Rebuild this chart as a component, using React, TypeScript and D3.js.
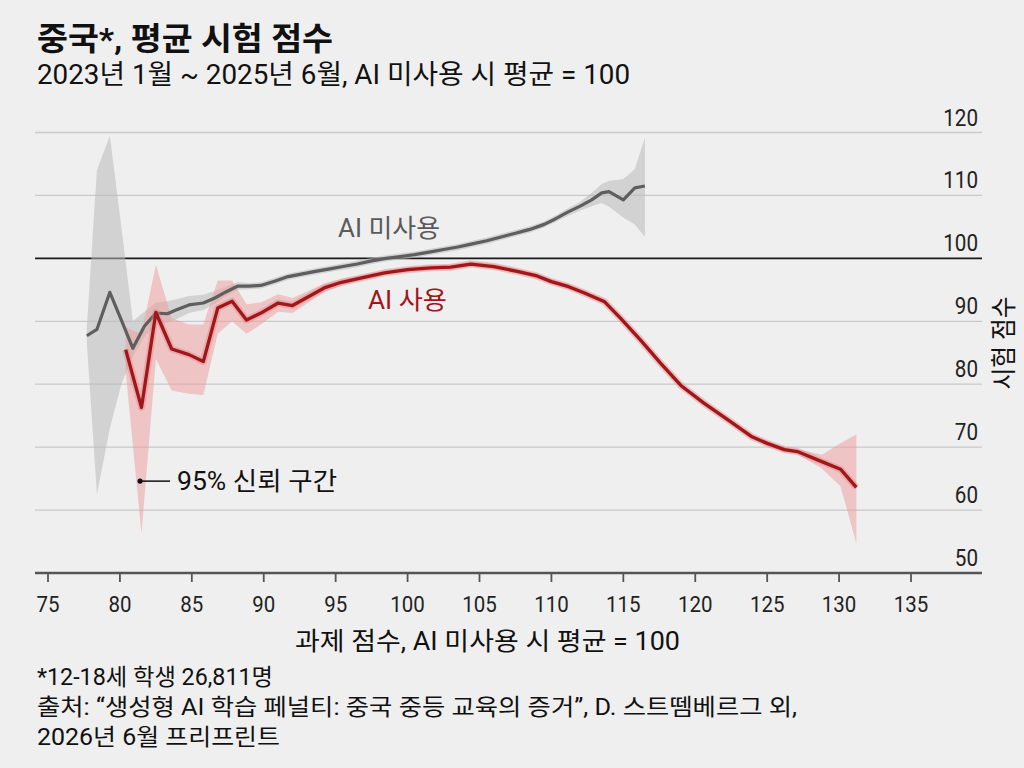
import * as d3 from "d3";

const W = 1024;
const H = 768;
const FONT = "Roboto, 'Noto Sans CJK KR', sans-serif";

// AI 미사용 (no AI): task score, mean test score, 95% CI
const noAiX = [77.7, 78.4, 79.3, 80.1, 80.9, 81.7, 82.5, 83.3, 83.9, 84.8, 85.8, 86.6, 87.4, 88.2, 89.0, 89.8, 90.8, 91.7, 92.6, 93.5, 94.5, 95.5, 96.5, 97.5, 98.5, 99.5, 100.5, 101.5, 102.5, 103.5, 104.5, 105.5, 106.5, 107.5, 108.5, 109.5, 110.3, 111.1, 112.0, 112.8, 113.5, 114.0, 115.0, 115.8, 116.5];
const noAiMean = [87.7, 88.7, 94.6, 90.2, 85.7, 89.2, 91.3, 91.2, 91.8, 92.6, 92.9, 93.7, 94.7, 95.6, 95.6, 95.7, 96.4, 97.1, 97.5, 97.9, 98.3, 98.7, 99.1, 99.6, 100.0, 100.3, 100.6, 101.0, 101.4, 101.8, 102.3, 102.8, 103.4, 104.0, 104.6, 105.4, 106.3, 107.3, 108.3, 109.3, 110.4, 110.6, 109.3, 111.2, 111.5];
const noAiLow = [86.5, 62.5, 73.0, 80.0, 84.5, 87.5, 89.5, 89.8, 90.3, 91.3, 91.8, 92.8, 94.0, 95.0, 95.1, 95.2, 95.9, 96.6, 97.0, 97.4, 97.8, 98.2, 98.6, 99.1, 99.5, 99.8, 100.1, 100.5, 100.9, 101.3, 101.8, 102.3, 102.9, 103.5, 104.1, 104.9, 105.8, 106.7, 107.6, 108.3, 108.8, 108.2, 106.5, 105.4, 103.4];
const noAiHigh = [89.0, 114.0, 119.5, 105.0, 90.0, 91.5, 93.0, 93.2, 93.5, 94.0, 94.2, 94.8, 95.5, 96.2, 96.1, 96.2, 96.9, 97.6, 98.0, 98.4, 98.8, 99.2, 99.6, 100.1, 100.5, 100.8, 101.1, 101.5, 101.9, 102.3, 102.8, 103.3, 103.9, 104.5, 105.1, 105.9, 106.8, 107.9, 109.0, 110.4, 111.8, 112.3, 112.6, 114.2, 119.2];

// AI 사용 (with AI)
const aiX = [80.4, 81.5, 82.5, 83.6, 84.8, 85.8, 86.8, 87.8, 88.8, 89.8, 91.0, 92.0, 93.1, 94.2, 95.4, 96.8, 98.4, 100.0, 101.6, 103.0, 104.4, 106.0, 107.7, 109.0, 110.0, 111.2, 112.3, 113.7, 114.8, 116.2, 117.6, 119.0, 120.6, 122.3, 123.9, 125.0, 126.2, 127.1, 128.8, 130.1, 131.2];
const aiMean = [85.5, 76.3, 91.4, 85.6, 84.7, 83.6, 92.1, 93.2, 90.2, 91.3, 92.9, 92.5, 93.9, 95.3, 96.2, 96.9, 97.7, 98.2, 98.5, 98.6, 99.1, 98.7, 97.9, 97.2, 96.3, 95.5, 94.5, 93.1, 90.5, 87.0, 83.3, 79.8, 77.0, 74.3, 71.7, 70.6, 69.6, 69.3, 67.7, 66.5, 63.6];
const aiLow = [82.0, 56.3, 84.0, 79.0, 78.5, 78.3, 88.0, 90.0, 88.0, 89.5, 91.5, 91.3, 93.0, 94.6, 95.7, 96.5, 97.3, 97.8, 98.1, 98.2, 98.7, 98.3, 97.5, 96.8, 95.9, 95.1, 94.1, 92.7, 90.1, 86.6, 82.9, 79.4, 76.6, 73.9, 71.3, 70.2, 69.2, 68.9, 66.6, 63.8, 54.7];
const aiHigh = [89.0, 88.0, 99.0, 90.5, 89.5, 89.5, 96.5, 96.5, 92.7, 93.0, 94.3, 93.7, 94.8, 96.0, 96.7, 97.3, 98.1, 98.6, 98.9, 99.0, 99.5, 99.1, 98.3, 97.6, 96.7, 95.9, 94.9, 93.5, 90.9, 87.4, 83.7, 80.2, 77.4, 74.7, 72.1, 71.0, 70.0, 69.7, 68.8, 70.6, 72.0];

const xTicks = [75, 80, 85, 90, 95, 100, 105, 110, 115, 120, 125, 130, 135];
const yTicks = [50, 60, 70, 80, 90, 100, 110, 120];

const title = "중국*, 평균 시험 점수";
const subtitle = "2023년 1월 ~ 2025년 6월, AI 미사용 시 평균 = 100";
const xTitle = "과제 점수, AI 미사용 시 평균 = 100";
const yTitle = "시험 점수";
const notes = [
  "*12-18세 학생 26,811명",
  "출처: “생성형 AI 학습 페널티: 중국 중등 교육의 증거”, D. 스트뗌베르그 외,",
  "2026년 6월 프리프린트",
];
const noteWidths = [236, 760, 243];

type Pt = { x: number; m: number; lo: number; hi: number };
const zip = (xs: number[], m: number[], lo: number[], hi: number[]): Pt[] =>
  xs.map((x, i) => ({ x, m: m[i], lo: lo[i], hi: hi[i] }));

const noAi = zip(noAiX, noAiMean, noAiLow, noAiHigh);
const ai = zip(aiX, aiMean, aiLow, aiHigh);

const App = () => {
  const x = d3.scaleLinear().domain([75, 135]).range([48, 911]);
  const y = d3.scaleLinear().domain([50, 120]).range([573, 132.5]);

  const band = d3.area<Pt>().x(d => x(d.x)).y0(d => y(d.lo)).y1(d => y(d.hi));
  const line = d3.line<Pt>().x(d => x(d.x)).y(d => y(d.m));

  const gridLeft = 35;
  const gridRight = 982;

  const annX = x(81.4);
  const annY = y(64.6);

  return (
    <svg width={W} height={H} style={{ position: "absolute", left: 0, top: 0 }} fontFamily={FONT}>
      <rect width={W} height={H} fill="#efefef" />

      {/* title block */}
      <text x={37} y={50} fontSize={32} fontWeight={700} fill="#111"
        textLength={296} lengthAdjust="spacingAndGlyphs">{title}</text>
      <text x={37} y={84} fontSize={27} fill="#111"
        textLength={593} lengthAdjust="spacingAndGlyphs">{subtitle}</text>

      {/* grid */}
      {yTicks.filter(t => t !== 50 && t !== 100).map(t => (
        <line key={t} x1={gridLeft} x2={gridRight} y1={y(t)} y2={y(t)} stroke="#c9c9c9" strokeWidth={1.3} />
      ))}
      <line x1={gridLeft} x2={gridRight} y1={y(100)} y2={y(100)} stroke="#1a1a1a" strokeWidth={1.6} />

      {/* y tick labels */}
      {yTicks.map(t => (
        <text key={t} x={978} y={y(t) - 7} textAnchor="end" fontSize={24} fill="#222"
          textLength={String(t).length * 11.6} lengthAdjust="spacingAndGlyphs">{t}</text>
      ))}
      <text transform={`translate(1004,343) rotate(-90)`} textAnchor="middle" dominantBaseline="central"
        fontSize={26} fill="#111" textLength={93} lengthAdjust="spacingAndGlyphs">{yTitle}</text>

      {/* bands */}
      <path d={band(noAi) ?? ""} fill="#b9b9b9" fillOpacity={0.55} />
      <path d={band(ai) ?? ""} fill="#ef9a9a" fillOpacity={0.5} />

      {/* lines */}
      <path d={line(noAi) ?? ""} fill="none" stroke="#5e5e5e" strokeWidth={3.2} strokeLinejoin="round" />
      <path d={line(ai) ?? ""} fill="none" stroke="#e58a8a" strokeOpacity={0.45} strokeWidth={7} strokeLinejoin="round" />
      <path d={line(ai) ?? ""} fill="none" stroke="#a0171b" strokeWidth={3.3} strokeLinejoin="round" />

      {/* series labels */}
      <text x={338} y={237} fontSize={25} fill="#5a5a5a"
        textLength={102} lengthAdjust="spacingAndGlyphs">AI 미사용</text>
      <text x={368} y={309} fontSize={25} fill="#a0161b"
        textLength={79} lengthAdjust="spacingAndGlyphs">AI 사용</text>

      {/* CI annotation */}
      <circle cx={annX} cy={annY} r={2.6} fill="#111" />
      <line x1={annX} x2={annX + 30} y1={annY} y2={annY} stroke="#111" strokeWidth={1.5} />
      <text x={annX + 37} y={annY + 9} fontSize={25} fill="#111"
        textLength={160} lengthAdjust="spacingAndGlyphs">95% 신뢰 구간</text>

      {/* x axis */}
      <line x1={gridLeft} x2={gridRight} y1={y(50)} y2={y(50)} stroke="#555" strokeWidth={2.4} />
      {xTicks.map(t => (
        <g key={t} transform={`translate(${x(t)},0)`}>
          <line y1={y(50)} y2={y(50) + 9} stroke="#555" strokeWidth={1.8} />
          <text y={612} textAnchor="middle" fontSize={22} fill="#222"
            textLength={String(t).length * 11.5} lengthAdjust="spacingAndGlyphs">{t}</text>
        </g>
      ))}
      <text x={487.5} y={650} textAnchor="middle" fontSize={25} fill="#111"
        textLength={385} lengthAdjust="spacingAndGlyphs">{xTitle}</text>

      {/* notes */}
      {notes.map((n, i) => (
        <text key={i} x={37} y={685 + i * 30} fontSize={23} fill="#111"
          textLength={noteWidths[i]} lengthAdjust="spacingAndGlyphs">{n}</text>
      ))}
    </svg>
  );
};

export default App;
